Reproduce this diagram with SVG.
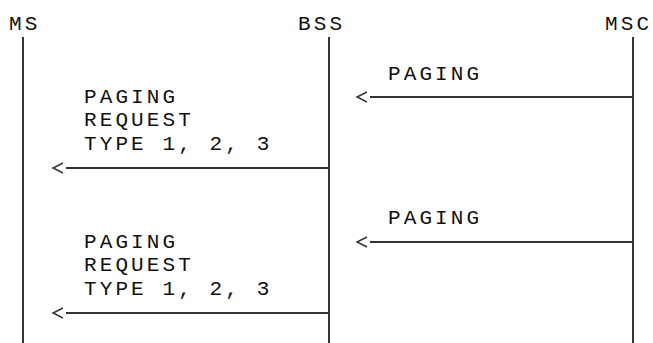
<svg xmlns="http://www.w3.org/2000/svg" width="653" height="343" viewBox="0 0 653 343">
<style>
text{font-family:"Liberation Mono","Courier New",monospace;font-size:21px;letter-spacing:3.1px;fill:#111}
.life{stroke:#333;stroke-width:2;fill:none}
.msg{stroke:#333;stroke-width:2;fill:none;marker-end:url(#chev)}
</style>
<defs>
<marker id="chev" markerUnits="userSpaceOnUse" orient="auto" refX="0" refY="0" markerWidth="20" markerHeight="20" viewBox="-2 -8 20 16" overflow="visible">
<path d="M3,-5 L13,0 L3,5" fill="none" stroke="#333" stroke-width="1.5"/>
</marker>
</defs>
<g id="MS"><text x="9" y="30">MS</text><line class="life" x1="23" y1="37" x2="23" y2="343"/></g>
<g id="BSS"><text x="298" y="30">BSS</text><line class="life" x1="329" y1="37" x2="329" y2="343"/></g>
<g id="MSC"><text x="605" y="30">MSC</text><line class="life" x1="633" y1="37" x2="633" y2="343"/></g>
<g id="connectors">
<line class="msg" x1="633" y1="97" x2="370" y2="97"/>
<line class="msg" x1="329" y1="168" x2="66" y2="168"/>
<line class="msg" x1="633" y1="242" x2="370" y2="242"/>
<line class="msg" x1="329" y1="313" x2="66" y2="313"/>
</g>
<g id="labels">
<text x="388" y="80">PAGING</text>
<text x="84" y="103">PAGING</text>
<text x="84" y="126">REQUEST</text>
<text x="84" y="150">TYPE 1, 2, 3</text>
<text x="388" y="224">PAGING</text>
<text x="84" y="248">PAGING</text>
<text x="84" y="271">REQUEST</text>
<text x="84" y="295">TYPE 1, 2, 3</text>
</g>
</svg>
